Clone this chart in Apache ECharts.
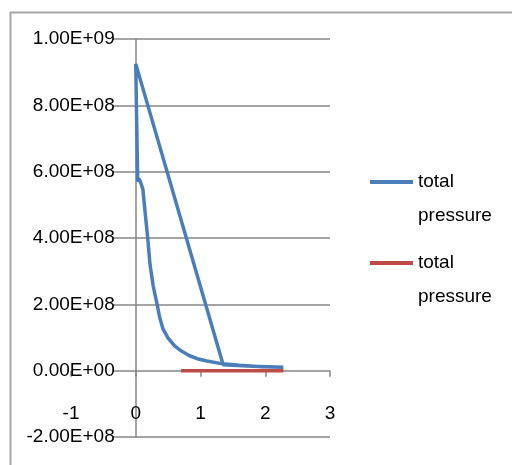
<!DOCTYPE html>
<html><head><meta charset="utf-8">
<script src="https://cdn.jsdelivr.net/npm/echarts@6/dist/echarts.min.js"></script>
<style>html,body{margin:0;padding:0;background:#fff;}#c{width:512px;height:465px;}</style>
</head><body><div id="c"></div>
<script>
// Data (x, pressure)
var blueX = [2.28, 1.8, 1.35, 0.0, 0.015, 0.03, 0.05, 0.08, 0.11, 0.14, 0.185, 0.22, 0.27, 0.33, 0.37, 0.42, 0.5, 0.6, 0.7, 0.83, 0.95, 1.1, 1.3, 1.6, 1.95, 2.28];
var blueY = [0.10e8, 0.13e8, 0.18e8, 9.25e8, 7.4e8, 5.7e8, 5.8e8, 5.65e8, 5.47e8, 4.86e8, 4.0e8, 3.2e8, 2.55e8, 2.0e8, 1.6e8, 1.26e8, 0.98e8, 0.75e8, 0.6e8, 0.45e8, 0.36e8, 0.29e8, 0.22e8, 0.16e8, 0.12e8, 0.10e8];
var redX = [0.7, 2.28];
var redY = [0, 0];
var xTicks = [-1, 0, 1, 2, 3];
var yTickLabels = ['-2.00E+08', '0.00E+00', '2.00E+08', '4.00E+08', '6.00E+08', '8.00E+08', '1.00E+09'];
var seriesNames = ['total pressure', 'total pressure '];

function pairs(xs, ys) { return xs.map(function (x, i) { return [x, ys[i]]; }); }

var W = 512, H = 465;
var gLeft = 71, gRight = 182, gTop = 39, gBottom = 28;
var xMin = xTicks[0], xMax = xTicks[xTicks.length - 1];
var yMin = -2e8, yMax = 1e9;
// shift axes so they cross at zero
var yAxisOffset = -(0 - xMin) / (xMax - xMin) * (W - gLeft - gRight);
var xAxisOffset = -(0 - yMin) / (yMax - yMin) * (H - gTop - gBottom);

var font = 'Liberation Sans';
var chart = echarts.init(document.getElementById('c'));
chart.setOption({
  animation: false,
  backgroundColor: '#fff',
  graphic: [{
    type: 'rect', left: 8, top: 10, silent: true,
    shape: { width: 520, height: 470 },
    style: { fill: 'none', stroke: '#a6a6a6', lineWidth: 2 }
  }],
  grid: [
    { left: gLeft, right: gRight, top: gTop, bottom: gBottom, containLabel: false, outerBoundsMode: 'none' },
    { left: 113, right: gRight, top: gTop, bottom: gBottom, containLabel: false, outerBoundsMode: 'none' }
  ],
  xAxis: [{
    gridIndex: 0, type: 'value', min: xMin, max: xMax, interval: 1,
    position: 'bottom', offset: xAxisOffset,
    axisLine: { show: false, onZero: false },
    axisTick: { show: true, length: 6, lineStyle: { color: '#868686', width: 1.5 } },
    splitLine: { show: false },
    axisLabel: { margin: 34, color: '#000', fontFamily: font, fontSize: 19, showMinLabel: true, showMaxLabel: true, hideOverlap: false }
  }, {
    gridIndex: 1, type: 'value', min: 0, max: 1, show: false
  }],
  yAxis: [{
    gridIndex: 0, type: 'value', min: yMin, max: yMax, interval: 2e8,
    position: 'left', offset: yAxisOffset,
    axisLine: { show: true, onZero: false, lineStyle: { color: '#868686', width: 1.5 } },
    axisTick: { show: false },
    splitLine: { show: false },
    axisLabel: {
      margin: 21, color: '#000', fontFamily: font, fontSize: 19, showMinLabel: true, showMaxLabel: true, hideOverlap: false,
      formatter: function (v) { var i = Math.round((v - yMin) / 2e8); return yTickLabels[i]; }
    }
  }, {
    gridIndex: 1, type: 'value', min: yMin, max: yMax, interval: 2e8,
    axisLine: { show: false }, axisTick: { show: false }, axisLabel: { show: false },
    splitLine: { show: true, lineStyle: { color: '#868686', width: 1.5 } }
  }],
  legend: {
    orient: 'vertical', left: 365, top: 126, itemGap: -21,
    itemWidth: 43, itemHeight: 4, icon: 'rect',
    data: seriesNames,
    formatter: function (n) { return '\ntotal\npressure'; },
    textStyle: { fontFamily: font, fontSize: 19, lineHeight: 34, color: '#000' }
  },
  series: [{
    name: seriesNames[0], type: 'line', xAxisIndex: 0, yAxisIndex: 0,
    data: pairs(blueX, blueY), showSymbol: false, smooth: false,
    lineStyle: { color: '#4a7ebb', width: 3.5 }, itemStyle: { color: '#4a7ebb' }
  }, {
    name: seriesNames[1], type: 'line', xAxisIndex: 0, yAxisIndex: 0,
    data: pairs(redX, redY), showSymbol: false,
    lineStyle: { color: '#be4b48', width: 3.5 }, itemStyle: { color: '#be4b48' }
  }]
});
</script></body></html>
